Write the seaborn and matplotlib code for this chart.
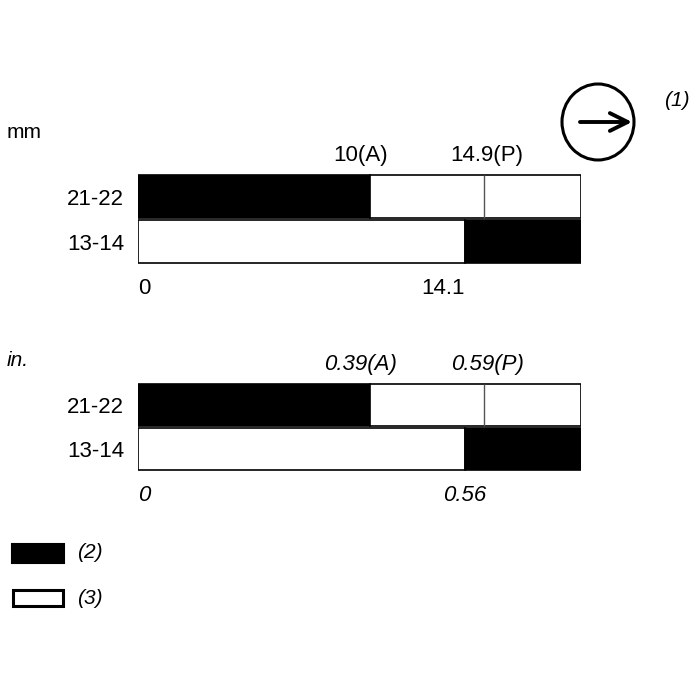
import matplotlib
matplotlib.use("Agg")
import matplotlib.pyplot as plt
import seaborn as sns
from matplotlib.patches import Ellipse, Rectangle

# contact rows and switch travel points
rows = ["21-22", "13-14"]
travel_mm = [10.0, 14.1, 14.9, 19.1]      # A, 13-14 close, P, full travel
travel_in = [0.394, 0.555, 0.587, 0.752]
top_labels_mm = ["10(A)", "14.9(P)"]
top_labels_in = ["0.39(A)", "0.59(P)"]
bottom_labels_mm = ["0", "14.1"]
bottom_labels_in = ["0", "0.56"]

sns.set_style("white")
plt.rcParams["font.family"] = ["Liberation Sans", "DejaVu Sans"]
plt.rcParams["text.color"] = "black"
plt.rcParams["ytick.labelcolor"] = "black"

fig = plt.figure(figsize=(7, 7), dpi=100)

# overlay axes in pixel coords for decoration
ax0 = fig.add_axes([0, 0, 1, 1])
ax0.set_xlim(0, 700)
ax0.set_ylim(700, 0)
ax0.axis("off")

ax0.text(7, 133, "mm", fontsize=15, va="center", ha="left")
ax0.text(7, 360, "in.", fontsize=15, va="center", ha="left", style="italic")

ax0.add_patch(Ellipse((598, 122), 72, 76, fill=False, lw=2.2, ec="black"))
ax0.annotate("", xy=(632, 122), xytext=(580, 122),
             arrowprops=dict(arrowstyle="->", lw=2.8, color="black",
                             mutation_scale=32, shrinkA=0, shrinkB=0))
ax0.text(664, 100, "(1)", fontsize=15, style="italic", va="center", ha="left")

ax0.add_patch(Rectangle((12, 544), 52, 19, fc="black", ec="black", lw=1.5))
ax0.text(77, 553, "(2)", fontsize=15, style="italic", va="center", ha="left")
ax0.add_patch(Rectangle((13, 590), 50, 16, fc="white", ec="black", lw=2.2))
ax0.text(77, 599, "(3)", fontsize=15, style="italic", va="center", ha="left")


def draw_panel(rect, vals, top_labels, bottom_labels, italic, b_ha):
    a, b, p, full = vals
    ax = fig.add_axes(rect)
    style = "italic" if italic else "normal"
    # 21-22: closed until A, open after
    ax.barh(0, a, left=0, height=0.94, color="black", edgecolor="black", lw=1.2)
    ax.barh(0, full - a, left=a, height=0.94, color="white", edgecolor="black", lw=1.2)
    ax.vlines(p, -0.47, 0.47, color="#555555", lw=1.0)
    # 13-14: open until B, closed after
    ax.barh(1, b, left=0, height=0.94, color="white", edgecolor="black", lw=1.2)
    ax.barh(1, full - b, left=b, height=0.94, color="black", edgecolor="black", lw=1.2)
    ax.set_xlim(0, full)
    ax.set_ylim(1.5, -0.5)
    ax.set_xticks([])
    ax.set_yticks([0, 1])
    ax.set_yticklabels(rows, fontsize=16)
    ax.tick_params(axis="y", length=0, pad=10)
    for s in ax.spines.values():
        s.set_visible(False)
    ax.text(a * 0.96, -0.92, top_labels[0], ha="center", va="center", fontsize=16,
            style=style, clip_on=False)
    ax.text(p * 1.01, -0.92, top_labels[1], ha="center", va="center", fontsize=16,
            style=style, clip_on=False)
    ax.text(0, 2.05, bottom_labels[0], ha="left", va="center", fontsize=16,
            style=style, clip_on=False)
    ax.text(b, 2.05, bottom_labels[1], ha=b_ha, va="center", fontsize=16,
            style=style, clip_on=False)
    return ax


draw_panel([138 / 700, 1 - 264 / 700, 443 / 700, 90 / 700],
           travel_mm, top_labels_mm, bottom_labels_mm, False, "right")
draw_panel([138 / 700, 1 - 471 / 700, 443 / 700, 88 / 700],
           travel_in, top_labels_in, bottom_labels_in, True, "center")

fig.savefig("out.png", dpi=100)
